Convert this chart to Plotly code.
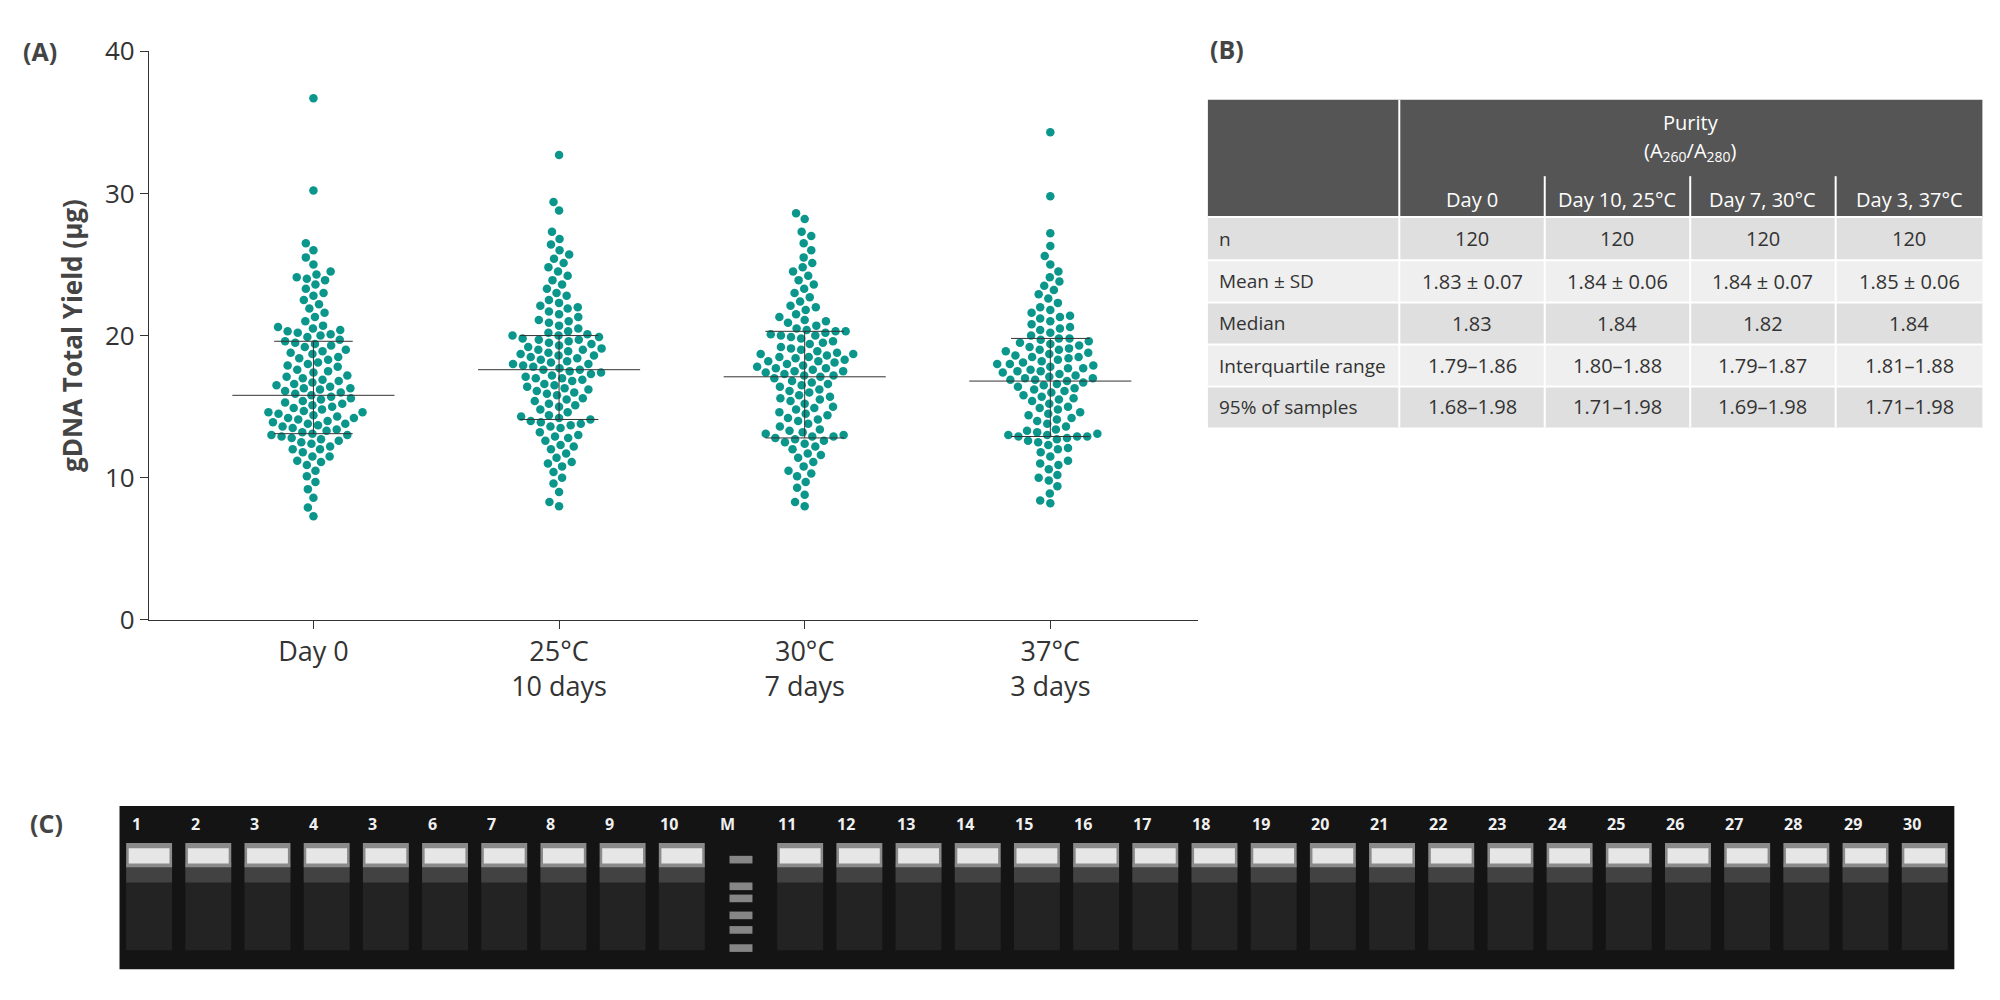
import numpy as np
import plotly.graph_objects as go

categories = ["Day 0", "25°C<br>10 days", "30°C<br>7 days", "37°C<br>3 days"]

day0 = [7.3,7.9,8.6,9.2,9.7,10.1,10.5,10.9,11.2,11.5,11.8,12.0,12.2,12.4,12.6,12.7,12.8,12.9,13.0,13.0,
        13.1,13.2,13.3,13.4,13.5,13.6,13.7,13.8,13.9,14.0,14.1,14.2,14.3,14.4,14.5,14.6,14.7,14.8,14.9,15.0,
        15.1,15.2,15.3,15.4,15.5,15.6,15.7,15.8,15.9,16.0,16.1,16.2,16.3,16.4,16.5,16.6,16.7,16.8,16.9,17.0,
        17.1,17.2,17.4,17.5,17.6,17.8,17.9,18.0,18.1,18.3,18.4,18.5,18.7,18.8,18.9,19.0,19.2,19.3,19.4,19.5,
        19.6,19.7,19.9,20.0,20.1,20.2,20.3,20.4,20.5,20.6,20.7,21.0,21.3,21.6,21.9,22.2,22.5,22.8,23.0,23.3,
        23.6,23.9,24.1,24.3,24.5,25.0,25.5,26.0,26.5,24.0,11.1,11.5,12.0,13.8,14.2,16.3,14.6,12.5,30.2,36.7]
d25 = [8.0,8.3,9.0,9.6,10.0,10.4,10.8,11.1,11.4,11.7,12.0,12.3,12.6,12.9,13.2,13.5,13.7,13.9,14.0,14.1,
       14.2,14.4,14.6,14.8,15.0,15.2,15.4,15.6,15.8,16.0,16.1,16.2,16.4,16.5,16.6,16.8,16.9,17.0,17.1,17.2,
       17.3,17.4,17.5,17.6,17.7,17.8,17.9,18.0,18.1,18.2,18.3,18.4,18.5,18.6,18.7,18.8,18.9,19.0,19.1,19.2,
       19.3,19.4,19.5,19.6,19.7,19.8,19.9,20.0,20.1,20.2,20.3,20.5,20.7,20.9,21.1,21.3,21.5,21.7,21.9,22.1,
       22.3,22.5,22.8,23.0,23.3,23.6,23.9,24.2,24.5,24.8,25.1,25.4,25.7,26.0,26.4,26.8,27.3,28.8,29.4,32.7,
       11.0,12.2,13.0,13.8,14.3,15.1,15.5,16.3,17.0,17.6,18.0,18.6,19.0,19.7,20.0,12.8,13.6,21.0,22.0,15.9]
d30 = [8.0,8.3,8.8,9.3,9.7,10.1,10.5,10.8,11.1,11.4,11.7,12.0,12.2,12.4,12.6,12.7,12.8,12.9,12.9,13.0,
       13.2,13.4,13.6,13.8,14.0,14.2,14.4,14.6,14.8,15.0,15.2,15.4,15.6,15.8,16.0,16.2,16.4,16.6,16.8,17.0,
       17.1,17.2,17.3,17.4,17.5,17.6,17.7,17.8,17.9,18.0,18.1,18.2,18.3,18.4,18.5,18.6,18.7,18.8,18.9,19.0,
       19.2,19.4,19.6,19.8,20.0,20.1,20.2,20.3,20.4,20.5,20.7,20.9,21.1,21.3,21.5,21.8,22.1,22.4,22.7,23.0,
       23.3,23.6,23.9,24.2,24.5,24.8,25.1,25.5,26.0,26.5,27.0,27.3,28.2,28.6,10.3,11.6,12.5,13.3,14.1,14.9,
       15.5,16.1,16.7,17.2,17.7,18.2,18.7,19.1,19.5,20.0,20.3,21.0,22.0,13.1,14.5,15.7,16.5,17.5,18.5,19.9]
d37 = [8.2,8.4,8.9,9.4,9.8,10.2,10.6,10.9,11.2,11.5,11.8,12.1,12.3,12.5,12.7,12.8,12.9,12.9,13.0,13.1,
       13.2,13.4,13.6,13.8,14.0,14.2,14.4,14.6,14.8,15.0,15.2,15.4,15.6,15.8,16.0,16.1,16.2,16.4,16.5,16.6,
       16.7,16.8,16.9,17.0,17.1,17.2,17.3,17.4,17.5,17.6,17.7,17.8,17.9,18.0,18.1,18.2,18.3,18.4,18.5,18.6,
       18.7,18.8,18.9,19.0,19.1,19.2,19.3,19.4,19.5,19.6,19.7,19.8,20.0,20.2,20.4,20.6,20.8,21.0,21.2,21.4,
       21.6,21.8,22.0,22.3,22.6,22.9,23.2,23.5,23.8,24.1,24.5,25.0,25.6,26.3,27.2,29.8,34.3,10.0,11.0,12.0,
       12.6,13.3,14.1,14.9,15.5,16.3,17.0,17.5,18.0,18.5,19.0,19.8,20.5,21.3,13.0,14.5,15.7,16.9,17.7,12.9]
groups = [day0, d25, d30, d37]

mean_line = [15.8, 17.6, 17.1, 16.8]
q1_line = [13.1, 14.1, 12.8, 12.9]
q3_line = [19.6, 20.0, 20.3, 19.8]

table_cols = ["Day 0", "Day 10, 25°C", "Day 7, 30°C", "Day 3, 37°C"]
table_rows = ["n", "Mean ± SD", "Median", "Interquartile range", "95% of samples"]
table_vals = [["120", "120", "120", "120"],
              ["1.83 ± 0.07", "1.84 ± 0.06", "1.84 ± 0.07", "1.85 ± 0.06"],
              ["1.83", "1.84", "1.82", "1.84"],
              ["1.79–1.86", "1.80–1.88", "1.79–1.87", "1.81–1.88"],
              ["1.68–1.98", "1.71–1.98", "1.69–1.98", "1.71–1.98"]]

lane_labels = ["1","2","3","4","3","6","7","8","9","10","M","11","12","13","14","15","16","17","18","19","20",
               "21","22","23","24","25","26","27","28","29","30"]
marker_bands = [0.2, 0.42, 0.52, 0.66, 0.78, 0.93]

TEAL = "#0b968c"
W, H = 1562.0, 781.0
fx = lambda p: ((p - 4.6) / 1.0035) / W
fy = lambda p: 1 - ((p - 21) / 0.968) / H

xpx_per_cat = (812 - 243) / 3 * 1.28
ypx_per_unit = (486 - 40) / 40 * 1.28
diam = 10.0

def swarm(vals):
    order = np.argsort(vals)
    placed = []
    offs = np.zeros(len(vals))
    cands = sorted(np.arange(-80, 80.01, 0.5), key=abs)
    for i in order:
        y = vals[i] * ypx_per_unit
        near = [(px, py) for px, py in placed if abs(py - y) < diam]
        best = 0
        for c in cands:
            if all((c - px) ** 2 + (y - py) ** 2 >= diam ** 2 for px, py in near):
                best = c
                break
        placed.append((best, y))
        offs[i] = best / xpx_per_cat
    return offs

fig = go.Figure()
for gi, vals in enumerate(groups):
    v = np.array(vals)
    o = swarm(v)
    fig.add_trace(go.Scatter(x=gi + o, y=v, mode="markers",
                             marker=dict(color=TEAL, size=8.5), showlegend=False, hoverinfo="y"))
    m, q1, q3 = mean_line[gi], q1_line[gi], q3_line[gi]
    for yy, hw in [(m, 0.33), (q1, 0.16), (q3, 0.16)]:
        fig.add_trace(go.Scatter(x=[gi - hw, gi + hw], y=[yy, yy], mode="lines",
                                 line=dict(color="#333", width=1), showlegend=False, hoverinfo="skip"))
    fig.add_trace(go.Scatter(x=[gi, gi], y=[q1, q3], mode="lines",
                             line=dict(color="#333", width=1), showlegend=False, hoverinfo="skip"))

fig.update_xaxes(domain=[fx(115), fx(937)], range=[-0.67, 3.6], tickvals=list(range(4)),
                 ticktext=categories, showline=True, linecolor="#333", ticks="outside", ticklen=8,
                 tickcolor="#333", showgrid=False, zeroline=False,
                 tickfont=dict(family="Open Sans", size=27, color="#333"))
fig.update_yaxes(domain=[fy(486), fy(40)], range=[0, 40], tickvals=[0, 10, 20, 30, 40],
                 showline=True, linecolor="#333", ticks="outside", ticklen=8, tickcolor="#333",
                 showgrid=False, zeroline=False,
                 tickfont=dict(family="Open Sans", size=26, color="#333"),
                 title=dict(text="<b>gDNA Total Yield (µg)</b>", font=dict(family="Open Sans", size=26, color="#444"),
                            standoff=14))

shapes, ann = [], []
def rect(x0, y0, x1, y1, fill, opacity=1.0):
    shapes.append(dict(type="rect", xref="paper", yref="paper", x0=fx(x0), x1=fx(x1), y0=fy(y1), y1=fy(y0),
                       fillcolor=fill, line=dict(width=0), opacity=opacity, layer="above"))
def text(x, y, s, size=20, color="#333", xanchor="center", bold=False):
    ann.append(dict(xref="paper", yref="paper", x=fx(x), y=fy(y), text=("<b>%s</b>" % s) if bold else s,
                    showarrow=False, xanchor=xanchor, yanchor="middle",
                    font=dict(family="Open Sans", size=size, color=color)))
def vline(x, ya, yb):
    shapes.append(dict(type="line", xref="paper", yref="paper", x0=fx(x), x1=fx(x), y0=fy(yb), y1=fy(ya),
                       line=dict(color="white", width=2), layer="above"))
def hline(xa, xb, y):
    shapes.append(dict(type="line", xref="paper", yref="paper", x0=fx(xa), x1=fx(xb), y0=fy(y), y1=fy(y),
                       line=dict(color="white", width=2), layer="above"))

for lbl, x, y in [("(A)", 15, 40), ("(B)", 945, 38), ("(C)", 20, 645)]:
    text(x, y, lbl, size=25, color="#444", xanchor="left", bold=True)

colx = [945, 1095, 1209, 1323, 1437, 1552]
rect(945, 78, 1552, 170, "#555555")
text((1095 + 1552) / 2, 96, "Purity", color="white")
text((1095 + 1552) / 2, 119, "(A<sub>260</sub>/A<sub>280</sub>)", color="white")
for j, c in enumerate(table_cols):
    text((colx[j + 1] + colx[j + 2]) / 2, 156, c, color="white")
vline(1095, 78, 170)
for j in range(2, 5):
    vline(colx[j], 138, 170)
row_y = [170, 204, 237, 270, 303, 335]
for i, r in enumerate(table_rows):
    rect(945, row_y[i], 1552, row_y[i + 1], "#dfdfdf" if i % 2 == 0 else "#efefef")
    ym = (row_y[i] + row_y[i + 1]) / 2
    text(952, ym, r, size=19, xanchor="left")
    for j, v in enumerate(table_vals[i]):
        text((colx[j + 1] + colx[j + 2]) / 2, ym, v)
for i in range(1, 5):
    hline(945, 1552, row_y[i])
hline(945, 1552, 170)
for j in range(1, 5):
    vline(colx[j], 170, 335)

gx0, gx1, gy0, gy1 = 92, 1530, 632, 760
rect(gx0, gy0, gx1, gy1, "#141414")
nl = len(lane_labels)
lw = (gx1 - gx0) / nl
for k, lab in enumerate(lane_labels):
    cx = gx0 + lw * (k + 0.5)
    text(cx - lw * 0.22, 646, lab, size=16, color="#f0f0f0", bold=True)
    if lab == "M":
        for b in marker_bands:
            yb = 655 + b * 95
            rect(cx - 9, yb - 3, cx + 9, yb + 3, "#9a9a9a", opacity=0.85)
    else:
        rect(cx - 18, 680, cx + 18, 745, "#2a2a2a", opacity=0.7)
        rect(cx - 18, 676, cx + 18, 692, "#4a4a4a", opacity=0.8)
        rect(cx - 18, 661, cx + 18, 680, "#8a8a8a")
        rect(cx - 16, 665, cx + 16, 677, "#e6e6e6")

fig.update_layout(width=2000, height=1000, margin=dict(l=0, r=0, t=0, b=0),
                  paper_bgcolor="white", plot_bgcolor="white", shapes=shapes, annotations=ann,
                  font=dict(family="Open Sans"))
fig.write_html("out.html")
